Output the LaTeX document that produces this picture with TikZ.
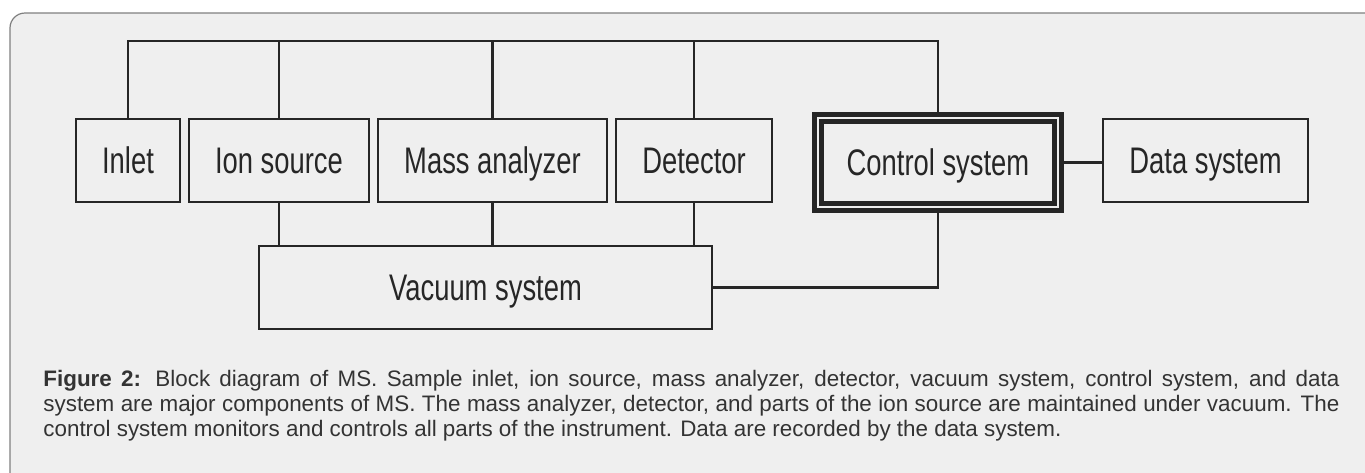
\documentclass[tikz,border=0pt]{standalone}
\usepackage{fontspec}
\setmainfont{Liberation Sans}
\newfontfamily\narrowfont[FakeStretch=0.74]{Liberation Sans}
\usepackage{tikz}
\usetikzlibrary{positioning}
\definecolor{panel}{HTML}{EFEFEF}
\definecolor{ink}{HTML}{262626}
\definecolor{framegray}{HTML}{7F7F7F}
\definecolor{captink}{HTML}{333333}

\begin{document}
\begin{tikzpicture}[x=0.5pt,y=-0.5pt,node distance=3.2pt,
  block/.style={rectangle,draw=ink,line width=1.3pt,minimum height=41.5pt,
    inner sep=0pt,text height=13.3pt,text depth=0pt,text=ink,
    font=\narrowfont\fontsize{18.5}{20}\selectfont},
  wire/.style={draw=ink,line width=1.2pt}]

  \useasboundingbox (0,0) rectangle (1365,472);
  \clip (0,0) rectangle (1365,472);
  \draw[framegray,fill=panel,line width=0.6pt,rounded corners=7.5pt]
    (10,13) rectangle (1400,500);

  % top row of units
  \node[block,minimum width=52pt] (inlet) at (128,160.5) {Inlet};
  \node[block,minimum width=90pt,right=of inlet] (ion) {Ion source};
  \node[block,minimum width=114.5pt,right=of ion] (mass) {Mass analyzer};
  \node[block,minimum width=78pt,right=of mass] (det) {Detector};

  \node[block,minimum width=120pt,minimum height=44.5pt,line width=2.25pt,
    double=panel,double distance=1.25pt] (ctrl) at (938,162.5) {Control system};
  \node[block,minimum width=102.5pt] (data) at (1205.5,160.5) {Data system};
  \node[block,minimum width=226.5pt] (vac) at (485.5,287.5) {Vacuum system};

  % connectors
  \coordinate (bus) at (0,41);
  \draw[wire] (inlet.north) -- (inlet.north |- bus) -| (ctrl.north);
  \foreach \n in {ion,mass,det}
    \draw[wire] (\n.north) -- (\n.north |- bus);
  \foreach \n in {ion,mass,det}
    \draw[wire] (\n.south) -- (\n.south |- vac.north);
  \draw[wire] (vac.east) -| (ctrl.south);
  \draw[wire] (ctrl.east) -- (ctrl.east -| data.west);

  \node[anchor=base west,text width=648pt,align=justify,inner sep=0pt,
    text=captink,font=\fontsize{11.2}{12.5}\selectfont] (caption) at (43,386)
    {\textbf{Figure 2:} Block diagram of MS. Sample inlet, ion source, mass analyzer,
    detector, vacuum system, control system, and data\linebreak
    system are major components of MS. The mass analyzer, detector, and parts of
    the ion source are maintained under vacuum. The\linebreak
    control system monitors and controls all parts of the instrument. Data are
    recorded by the data system.};

\end{tikzpicture}
\end{document}
